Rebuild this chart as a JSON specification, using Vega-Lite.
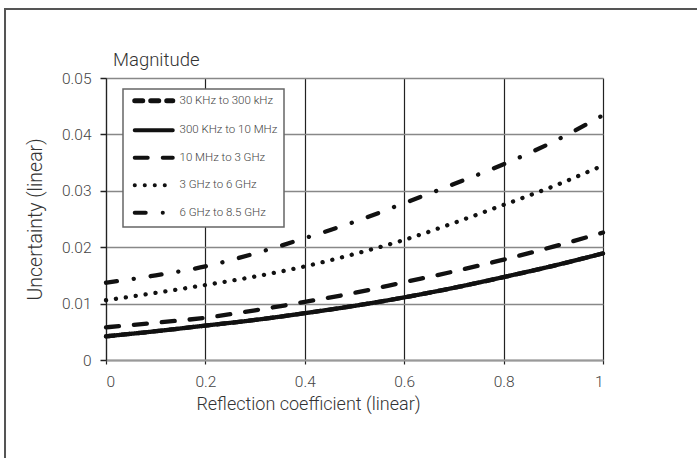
{
  "$schema": "https://vega.github.io/schema/vega-lite/v6.json",
  "width": 497,
  "height": 282,
  "autosize": {"type": "none"},
  "padding": {"left": 106, "top": 78, "right": 94, "bottom": 98},
  "background": "white",
  "title": {"text": "Magnitude", "anchor": "start", "frame": "group", "dx": 7, "offset": -76, "baseline": "alphabetic", "fontSize": 18.5, "fontWeight": 300, "font": "Roboto", "color": "#333"},
  "config": {
    "view": {"stroke": null},
    "font": "Roboto",
    "axis": {"labelFont": "Roboto", "titleFont": "Roboto", "labelFontWeight": 300, "titleFontWeight": 300, "labelColor": "#444", "titleColor": "#333", "labelFontSize": 15.5, "titleFontSize": 18}
  },
  "layer": [
    {
      "data": {"values": [{}]},
      "mark": {"type": "rect", "fill": null, "stroke": "#555", "strokeWidth": 2, "clip": false},
      "encoding": {
        "x": {"datum": -0.2032, "type": "quantitative", "scale": {"domain": [0, 1]}},
        "x2": {"datum": 1.3},
        "y": {"datum": 0.06223, "type": "quantitative", "scale": {"domain": [0, 0.05]}},
        "y2": {"datum": -0.03}
      }
    },
    {
      "data": {"values": [
        {"series": "30 KHz to 300 kHz", "r": 0, "u": 0.0042},
        {"series": "30 KHz to 300 kHz", "r": 0.1, "u": 0.0051},
        {"series": "30 KHz to 300 kHz", "r": 0.2, "u": 0.0061},
        {"series": "30 KHz to 300 kHz", "r": 0.3, "u": 0.0071},
        {"series": "30 KHz to 300 kHz", "r": 0.4, "u": 0.0083},
        {"series": "30 KHz to 300 kHz", "r": 0.5, "u": 0.0096},
        {"series": "30 KHz to 300 kHz", "r": 0.6, "u": 0.0111},
        {"series": "30 KHz to 300 kHz", "r": 0.7, "u": 0.0128},
        {"series": "30 KHz to 300 kHz", "r": 0.8, "u": 0.0147},
        {"series": "30 KHz to 300 kHz", "r": 0.9, "u": 0.0167},
        {"series": "30 KHz to 300 kHz", "r": 1, "u": 0.0189},
        {"series": "300 KHz to 10 MHz", "r": 0, "u": 0.0042},
        {"series": "300 KHz to 10 MHz", "r": 0.1, "u": 0.0051},
        {"series": "300 KHz to 10 MHz", "r": 0.2, "u": 0.0061},
        {"series": "300 KHz to 10 MHz", "r": 0.3, "u": 0.0071},
        {"series": "300 KHz to 10 MHz", "r": 0.4, "u": 0.0083},
        {"series": "300 KHz to 10 MHz", "r": 0.5, "u": 0.0096},
        {"series": "300 KHz to 10 MHz", "r": 0.6, "u": 0.0111},
        {"series": "300 KHz to 10 MHz", "r": 0.7, "u": 0.0128},
        {"series": "300 KHz to 10 MHz", "r": 0.8, "u": 0.0147},
        {"series": "300 KHz to 10 MHz", "r": 0.9, "u": 0.0167},
        {"series": "300 KHz to 10 MHz", "r": 1, "u": 0.0189},
        {"series": "10 MHz to 3 GHz", "r": 0, "u": 0.0058},
        {"series": "10 MHz to 3 GHz", "r": 0.1, "u": 0.0066},
        {"series": "10 MHz to 3 GHz", "r": 0.2, "u": 0.0075},
        {"series": "10 MHz to 3 GHz", "r": 0.3, "u": 0.0088},
        {"series": "10 MHz to 3 GHz", "r": 0.4, "u": 0.0103},
        {"series": "10 MHz to 3 GHz", "r": 0.5, "u": 0.0119},
        {"series": "10 MHz to 3 GHz", "r": 0.6, "u": 0.0138},
        {"series": "10 MHz to 3 GHz", "r": 0.7, "u": 0.0157},
        {"series": "10 MHz to 3 GHz", "r": 0.8, "u": 0.0178},
        {"series": "10 MHz to 3 GHz", "r": 0.9, "u": 0.0201},
        {"series": "10 MHz to 3 GHz", "r": 1, "u": 0.0226},
        {"series": "3 GHz to 6 GHz", "r": 0, "u": 0.0106},
        {"series": "3 GHz to 6 GHz", "r": 0.1, "u": 0.0119},
        {"series": "3 GHz to 6 GHz", "r": 0.2, "u": 0.0133},
        {"series": "3 GHz to 6 GHz", "r": 0.3, "u": 0.0148},
        {"series": "3 GHz to 6 GHz", "r": 0.4, "u": 0.0166},
        {"series": "3 GHz to 6 GHz", "r": 0.5, "u": 0.0188},
        {"series": "3 GHz to 6 GHz", "r": 0.6, "u": 0.0213},
        {"series": "3 GHz to 6 GHz", "r": 0.7, "u": 0.0243},
        {"series": "3 GHz to 6 GHz", "r": 0.8, "u": 0.0275},
        {"series": "3 GHz to 6 GHz", "r": 0.9, "u": 0.0308},
        {"series": "3 GHz to 6 GHz", "r": 1, "u": 0.0345},
        {"series": "6 GHz to 8.5 GHz", "r": 0, "u": 0.0137},
        {"series": "6 GHz to 8.5 GHz", "r": 0.1, "u": 0.0150},
        {"series": "6 GHz to 8.5 GHz", "r": 0.2, "u": 0.0166},
        {"series": "6 GHz to 8.5 GHz", "r": 0.3, "u": 0.0189},
        {"series": "6 GHz to 8.5 GHz", "r": 0.4, "u": 0.0216},
        {"series": "6 GHz to 8.5 GHz", "r": 0.5, "u": 0.0245},
        {"series": "6 GHz to 8.5 GHz", "r": 0.6, "u": 0.0278},
        {"series": "6 GHz to 8.5 GHz", "r": 0.7, "u": 0.0312},
        {"series": "6 GHz to 8.5 GHz", "r": 0.8, "u": 0.0347},
        {"series": "6 GHz to 8.5 GHz", "r": 0.9, "u": 0.0387},
        {"series": "6 GHz to 8.5 GHz", "r": 1, "u": 0.0434}
      ]},
      "mark": {"type": "line", "color": "#111", "strokeWidth": 4.3, "strokeCap": "round", "interpolate": "monotone"},
      "encoding": {
        "x": {
          "field": "r", "type": "quantitative",
          "scale": {"domain": [0, 1]},
          "axis": {
            "title": "Reflection coefficient (linear)",
            "values": [0, 0.2, 0.4, 0.6, 0.8, 1],
            "format": "~g",
            "grid": true, "gridColor": "#222", "gridWidth": 1.2,
            "tickColor": "#222", "tickSize": 4, "tickWidth": 1.2,
            "domainColor": "#999", "domainWidth": 2,
            "labelPadding": 10,
            "titleX": 202, "titleAnchor": "middle", "titlePadding": 6
          }
        },
        "y": {
          "field": "u", "type": "quantitative",
          "scale": {"domain": [0, 0.05]},
          "axis": {
            "title": "Uncertainty (linear)",
            "titleFontSize": 19.5,
            "values": [0, 0.01, 0.02, 0.03, 0.04, 0.05],
            "format": "~g",
            "grid": true, "gridColor": "#888", "gridWidth": 1.5,
            "tickColor": "#222", "tickSize": 6, "tickWidth": 1.5,
            "domainColor": "#222", "domainWidth": 1.2,
            "labelPadding": 9, "titlePadding": 16
          }
        },
        "strokeDash": {
          "field": "series", "type": "nominal",
          "scale": {
            "domain": ["30 KHz to 300 kHz", "300 KHz to 10 MHz", "10 MHz to 3 GHz", "3 GHz to 6 GHz", "6 GHz to 8.5 GHz"],
            "range": [[8, 8], [1, 0], [13, 15], [0.1, 9.9], [11, 17, 0.1, 17]]
          },
          "legend": {
            "title": null,
            "orient": "none", "legendX": 17, "legendY": 11,
            "padding": 6,
            "fillColor": "white", "strokeColor": "#666",
            "symbolType": "M-3.17,0H3.17", "symbolSize": 144, "symbolStrokeWidth": 4, "symbolStrokeColor": "#111",
            "symbolOffset": 19,
            "labelFont": "Roboto", "labelFontSize": 11.5, "labelFontWeight": 300, "labelColor": "#444", "labelOffset": 20,
            "rowPadding": 10.5,
            "encode": {
              "legend": {"update": {"strokeWidth": {"value": 1.5}}},
              "symbols": {"update": {"strokeCap": {"value": "round"}, "strokeWidth": {"signal": "datum.value === '30 KHz to 300 kHz' ? 5 : 4"}}}
            }
          }
        }
      }
    }
  ]
}
